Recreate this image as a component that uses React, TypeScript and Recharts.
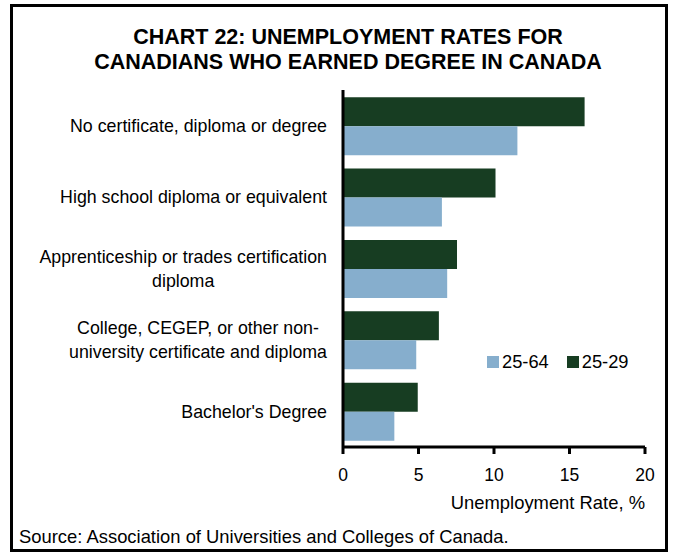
import React from "react";
import { BarChart, Bar, XAxis, YAxis, Legend, Label } from "recharts";

const categories = [
  "No certificate, diploma or degree",
  "High school diploma or equivalent",
  "Apprenticeship or trades certification\ndiploma",
  "College, CEGEP, or other non-\nuniversity certificate and diploma",
  "Bachelor's Degree",
];
const series2529 = [16.0, 10.1, 7.55, 6.35, 4.95];
const series2564 = [11.55, 6.55, 6.9, 4.85, 3.4];
const xTicks = [0, 5, 10, 15, 20];

const DARK = "#173d22";
const LIGHT = "#86aecd";
const FONT = '"Liberation Sans", Arial, sans-serif';
const LABEL_SIZE = 17.8;

const data = categories.map((c, i) => ({
  cat: c,
  young: series2529[i],
  all: series2564[i],
}));

let ctx: CanvasRenderingContext2D | null = null;
const measure = (t: string) => {
  if (!ctx) {
    ctx = document.createElement("canvas").getContext("2d");
  }
  if (!ctx) return t.length * 8;
  ctx.font = `${LABEL_SIZE}px "Liberation Sans"`;
  return ctx.measureText(t).width;
};

const YTick = (props: any) => {
  const { x, y, payload } = props;
  const lines: string[] = String(payload.value).split("\n");
  if (lines.length === 1) {
    return (
      <text x={x} y={y} dy="0.355em" textAnchor="end" fontSize={LABEL_SIZE} fontFamily={FONT} fill="#000">
        {lines[0]}
      </text>
    );
  }
  const maxW = Math.max(...lines.map(measure));
  const cx = x - maxW / 2;
  const lh = 24;
  return (
    <g>
      {lines.map((l, i) => (
        <text
          key={i}
          x={cx}
          y={y + (i - (lines.length - 1) / 2) * lh}
          dy="0.355em"
          textAnchor="middle"
          fontSize={LABEL_SIZE}
          fontFamily={FONT}
          fill="#000"
        >
          {l}
        </text>
      ))}
    </g>
  );
};

const LegendContent = () => {
  const items = [
    { name: "25-64", color: LIGHT },
    { name: "25-29", color: DARK },
  ];
  return (
    <div style={{ display: "flex", alignItems: "center", fontFamily: FONT, fontSize: 18.3, color: "#000" }}>
      {items.map((it, i) => (
        <div key={i} style={{ display: "flex", alignItems: "center", marginRight: i === 0 ? 18 : 0 }}>
          <span style={{ display: "inline-block", width: 12, height: 12, background: it.color, marginRight: 3 }} />
          <span>{it.name}</span>
        </div>
      ))}
    </div>
  );
};

export default function App() {
  return (
    <div style={{ position: "absolute", left: 0, top: 0, width: 680, height: 559, background: "#fff" }}>
      <div
        style={{
          position: "absolute",
          left: 10,
          top: 4,
          width: 658,
          height: 548,
          border: "3px solid #000",
          boxSizing: "border-box",
        }}
      />
      <div
        style={{
          position: "absolute",
          left: 0,
          width: 696,
          top: 25,
          textAlign: "center",
          fontFamily: FONT,
          fontWeight: "bold",
          fontSize: 21.5,
          lineHeight: "25px",
          color: "#000",
        }}
      >
        CHART 22: UNEMPLOYMENT RATES FOR
        <br />
        CANADIANS WHO EARNED DEGREE IN CANADA
      </div>
      <div
        style={{
          position: "absolute",
          left: 19,
          top: 527,
          fontFamily: FONT,
          fontSize: 18.4,
          lineHeight: "20px",
          color: "#000",
        }}
      >
        Source: Association of Universities and Colleges of Canada.
      </div>
      <div style={{ position: "absolute", left: 0, top: 0 }}>
        <BarChart
          width={680}
          height={559}
          data={data}
          layout="vertical"
          margin={{ top: 90, right: 35, left: 13, bottom: 72 }}
          barCategoryGap="10%"
          barGap={0}
        >
          <XAxis
            type="number"
            domain={[0, 20]}
            ticks={xTicks}
            interval={0}
            axisLine={{ stroke: "#000", strokeWidth: 3 }}
            tickLine={{ stroke: "#000", strokeWidth: 3 }}
            tickSize={7}
            tickMargin={15}
            height={40}
            tick={{ fontSize: 17.5, fontFamily: FONT, fill: "#000" }}
          >
            <Label
              content={(p: any) => {
                const vb = p.viewBox || {};
                return (
                  <text
                    x={vb.x + vb.width}
                    y={vb.y + 62}
                    textAnchor="end"
                    fontSize={18.4}
                    fontFamily={FONT}
                    fill="#000"
                  >
                    Unemployment Rate, %
                  </text>
                );
              }}
            />
          </XAxis>
          <XAxis
            xAxisId="top"
            orientation="top"
            type="number"
            domain={[0, 20]}
            height={0}
            tick={false}
            tickLine={false}
            axisLine={{ stroke: "#000", strokeWidth: 3 }}
          />
          <YAxis
            type="category"
            dataKey="cat"
            width={330}
            axisLine={{ stroke: "#000", strokeWidth: 3 }}
            tickLine={false}
            tickMargin={10}
            interval={0}
            tick={<YTick />}
          />
          <YAxis
            yAxisId="right"
            orientation="right"
            type="category"
            dataKey="cat"
            width={0}
            tick={false}
            tickLine={false}
            axisLine={{ stroke: "#000", strokeWidth: 3 }}
          />
          <Bar dataKey="young" name="25-29" fill={DARK} isAnimationActive={false} />
          <Bar dataKey="all" name="25-64" fill={LIGHT} isAnimationActive={false} />
          <Legend
            layout="horizontal"
            verticalAlign="middle"
            align="center"
            content={<LegendContent />}
            wrapperStyle={{ position: "absolute", left: 487, top: 351, width: "auto" }}
          />
        </BarChart>
      </div>
    </div>
  );
}
